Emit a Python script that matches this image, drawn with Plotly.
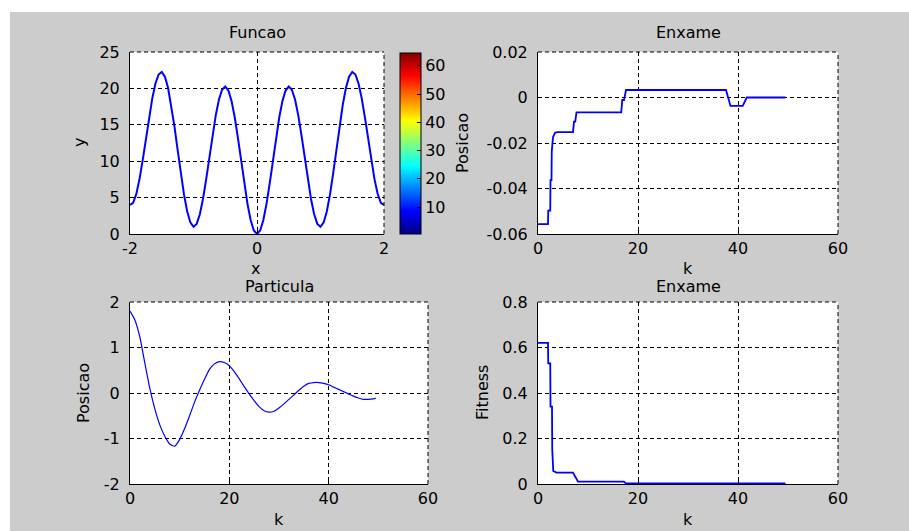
import plotly.graph_objects as go

W, H = 909, 531
FONT = "DejaVu Sans"
BLUE = "#0000ff"

# --- Funcao: y over x in [-2, 2] ---
func_x = [round(-2 + 0.05 * i, 2) for i in range(81)]
func_y = [
    4.00, 4.29, 5.52, 7.54, 10.15, 13.06, 15.98, 18.60, 20.65, 21.91,
    22.25, 21.61, 20.05, 17.70, 14.78, 11.56, 8.35, 5.44, 3.12, 1.59,
    1.00, 1.39, 2.72, 4.84, 7.55, 10.56, 13.58, 16.30, 18.45, 19.81,
    20.25, 19.71, 18.25, 16.00, 13.18, 10.06, 6.95, 4.14, 1.92, 0.49,
    0.00,
    0.49, 1.92, 4.14, 6.95, 10.06, 13.18, 16.00, 18.25, 19.71, 20.25,
    19.81, 18.45, 16.30, 13.58, 10.56, 7.55, 4.84, 2.72, 1.39, 1.00,
    1.59, 3.12, 5.44, 8.35, 11.56, 14.78, 17.70, 20.05, 21.61, 22.25,
    21.91, 20.65, 18.60, 15.98, 13.06, 10.15, 7.54, 5.52, 4.29, 4.00,
]

# --- Enxame: best position per iteration ---
swarm_k = [0, 2.0, 2.05, 2.45, 2.5, 2.7, 2.75, 3.0, 3.4, 3.9, 7.0, 7.2, 7.45,
           7.7, 16.65, 16.85, 17.2, 17.6, 37.6, 38.5, 40.95, 41.75, 49.5]
swarm_pos = [-0.0557, -0.0557, -0.0497, -0.0497, -0.0363, -0.0363, -0.0238,
             -0.0175, -0.0155, -0.0152, -0.0152, -0.0106, -0.0106, -0.0065,
             -0.0065, -0.0011, -0.0011, 0.0033, 0.0033, -0.0037, -0.0037,
             0.0, 0.0]

# --- Particula: single particle position per iteration ---
part_k = list(range(50)) + [49.5]
part_pos = [
    1.80, 1.60, 1.22, 0.65, 0.10, -0.35, -0.70, -0.95, -1.12, -1.17,
    -1.02, -0.78, -0.50, -0.20, 0.06, 0.30, 0.52, 0.64, 0.69, 0.67,
    0.60, 0.47, 0.31, 0.14, -0.02, -0.17, -0.30, -0.39, -0.42, -0.40,
    -0.33, -0.24, -0.14, -0.04, 0.06, 0.15, 0.21, 0.23, 0.23, 0.21,
    0.18, 0.13, 0.08, 0.03, -0.02, -0.07, -0.11, -0.14, -0.14, -0.13,
    -0.12,
]

# --- Enxame: best fitness per iteration ---
fit_k = [0, 2.0, 2.05, 2.45, 2.5, 2.8, 2.85, 3.05, 3.7, 7.0, 8.0, 17.2, 17.5, 49.5]
fit_val = [0.62, 0.62, 0.53, 0.53, 0.34, 0.34, 0.153, 0.057, 0.05, 0.05,
           0.01, 0.01, 0.004, 0.003]

# colour bar scale
cb_ticks = [10, 20, 30, 40, 50, 60]
jet = [[0.0, "#000080"], [0.125, "#0000ff"], [0.375, "#00ffff"],
       [0.625, "#ffff00"], [0.875, "#ff0000"], [1.0, "#800000"]]


def px_x(p):
    return p / W


def px_y(p):
    return 1 - p / H


# axes boxes in pixels: (left, right, top, bottom)
boxes = {
    1: (130, 384, 52, 234),
    2: (538, 838, 52, 234),
    3: (130, 428, 302, 484),
    4: (538, 838, 302, 484),
}

fig = go.Figure()
fig.add_trace(go.Scatter(x=func_x, y=func_y, mode="lines",
                         line=dict(color=BLUE, width=2), xaxis="x", yaxis="y"))
fig.add_trace(go.Scatter(
    x=[None, None], y=[None, None], mode="markers", xaxis="x", yaxis="y",
    marker=dict(color=[0.5, 64.5], cmin=0.5, cmax=64.5, colorscale=jet,
                showscale=True,
                colorbar=dict(
                    x=px_x(400), xanchor="left", y=px_y(234), yanchor="bottom",
                    len=181 / H, lenmode="fraction", thickness=21,
                    thicknessmode="pixels", xpad=0, ypad=0,
                    outlinewidth=1, outlinecolor="black", borderwidth=0,
                    tickvals=cb_ticks, ticks="inside", ticklen=4,
                    tickcolor="black",
                    tickfont=dict(family=FONT, size=16, color="black")))))
fig.add_trace(go.Scatter(x=swarm_k, y=swarm_pos, mode="lines",
                         line=dict(color=BLUE, width=1.8), xaxis="x2", yaxis="y2"))
fig.add_trace(go.Scatter(x=part_k, y=part_pos, mode="lines",
                         line=dict(color=BLUE, width=1.2, shape="spline",
                                   smoothing=0.6), xaxis="x3", yaxis="y3"))
fig.add_trace(go.Scatter(x=fit_k, y=fit_val, mode="lines",
                         line=dict(color=BLUE, width=1.8), xaxis="x4", yaxis="y4"))

tickfont = dict(family=FONT, size=16, color="black")
common = dict(showline=True, linecolor="black", linewidth=1, showgrid=True,
              gridcolor="black", griddash="4px,3px", gridwidth=1,
              zeroline=False, ticks="inside", ticklen=4, tickcolor="black",
              tickfont=tickfont, fixedrange=True, automargin=False)

x_specs = {
    1: dict(range=[-2, 2], tickvals=[-2, 0, 2], ticktext=["-2", "0", "2"]),
    2: dict(range=[0, 60], tickvals=[0, 20, 40, 60]),
    3: dict(range=[0, 60], tickvals=[0, 20, 40, 60]),
    4: dict(range=[0, 60], tickvals=[0, 20, 40, 60]),
}
y_specs = {
    1: dict(range=[0, 25], tickvals=[0, 5, 10, 15, 20, 25]),
    2: dict(range=[-0.06, 0.02], tickvals=[-0.06, -0.04, -0.02, 0, 0.02],
            ticktext=["-0.06", "-0.04", "-0.02", "0", "0.02"]),
    3: dict(range=[-2, 2], tickvals=[-2, -1, 0, 1, 2],
            ticktext=["-2", "-1", "0", "1", "2"]),
    4: dict(range=[0, 0.8], tickvals=[0, 0.2, 0.4, 0.6, 0.8],
            ticktext=["0", "0.2", "0.4", "0.6", "0.8"]),
}

layout = {}
shapes = []
for i, (l, r, t, b) in boxes.items():
    sfx = "" if i == 1 else str(i)
    layout["xaxis" + sfx] = dict(common, domain=[px_x(l), px_x(r)],
                                 anchor="y" + sfx, ticklabelstandoff=0, **x_specs[i])
    layout["yaxis" + sfx] = dict(common, domain=[px_y(b), px_y(t)],
                                 anchor="x" + sfx, ticklabelstandoff=6, **y_specs[i])
    # dotted top and right borders of each box
    shapes.append(dict(type="line", xref="paper", yref="paper",
                       x0=px_x(l), x1=px_x(r), y0=px_y(t), y1=px_y(t),
                       line=dict(color="black", width=1, dash="4px,3px")))
    shapes.append(dict(type="line", xref="paper", yref="paper",
                       x0=px_x(r), x1=px_x(r), y0=px_y(b), y1=px_y(t),
                       line=dict(color="black", width=1, dash="4px,3px")))

# white margin strips around the grey figure area
shapes.append(dict(type="rect", xref="paper", yref="paper", x0=0, x1=px_x(10),
                   y0=0, y1=1, fillcolor="white", line=dict(width=0), layer="below"))
shapes.append(dict(type="rect", xref="paper", yref="paper", x0=0, x1=1,
                   y0=px_y(12), y1=1, fillcolor="white", line=dict(width=0), layer="below"))

labels = [
    ("Funcao", 257, 33, 0), ("Enxame", 688, 33, 0),
    ("x", 255, 268, 0), ("k", 688, 268, 0),
    ("Particula", 279, 286, 0), ("Enxame", 688, 286, 0),
    ("k", 279, 519, 0), ("k", 688, 519, 0),
    ("y", 80, 143, -90), ("Posicao", 463, 143, -90),
    ("Posicao", 83, 393, -90), ("Fitness", 482, 393, -90),
]
annotations = [
    dict(text=txt, x=px_x(x), y=px_y(y), xref="paper", yref="paper",
         xanchor="center", yanchor="middle", showarrow=False, textangle=ang,
         font=dict(family=FONT, size=16, color="black"))
    for txt, x, y, ang in labels
]

fig.update_layout(
    width=W, height=H,
    margin=dict(l=0, r=0, t=0, b=0, pad=0, autoexpand=False),
    paper_bgcolor="#cccccc", plot_bgcolor="white", showlegend=False,
    shapes=shapes, annotations=annotations, **layout,
)

fig.write_html("out.html", config={"displayModeBar": False})
